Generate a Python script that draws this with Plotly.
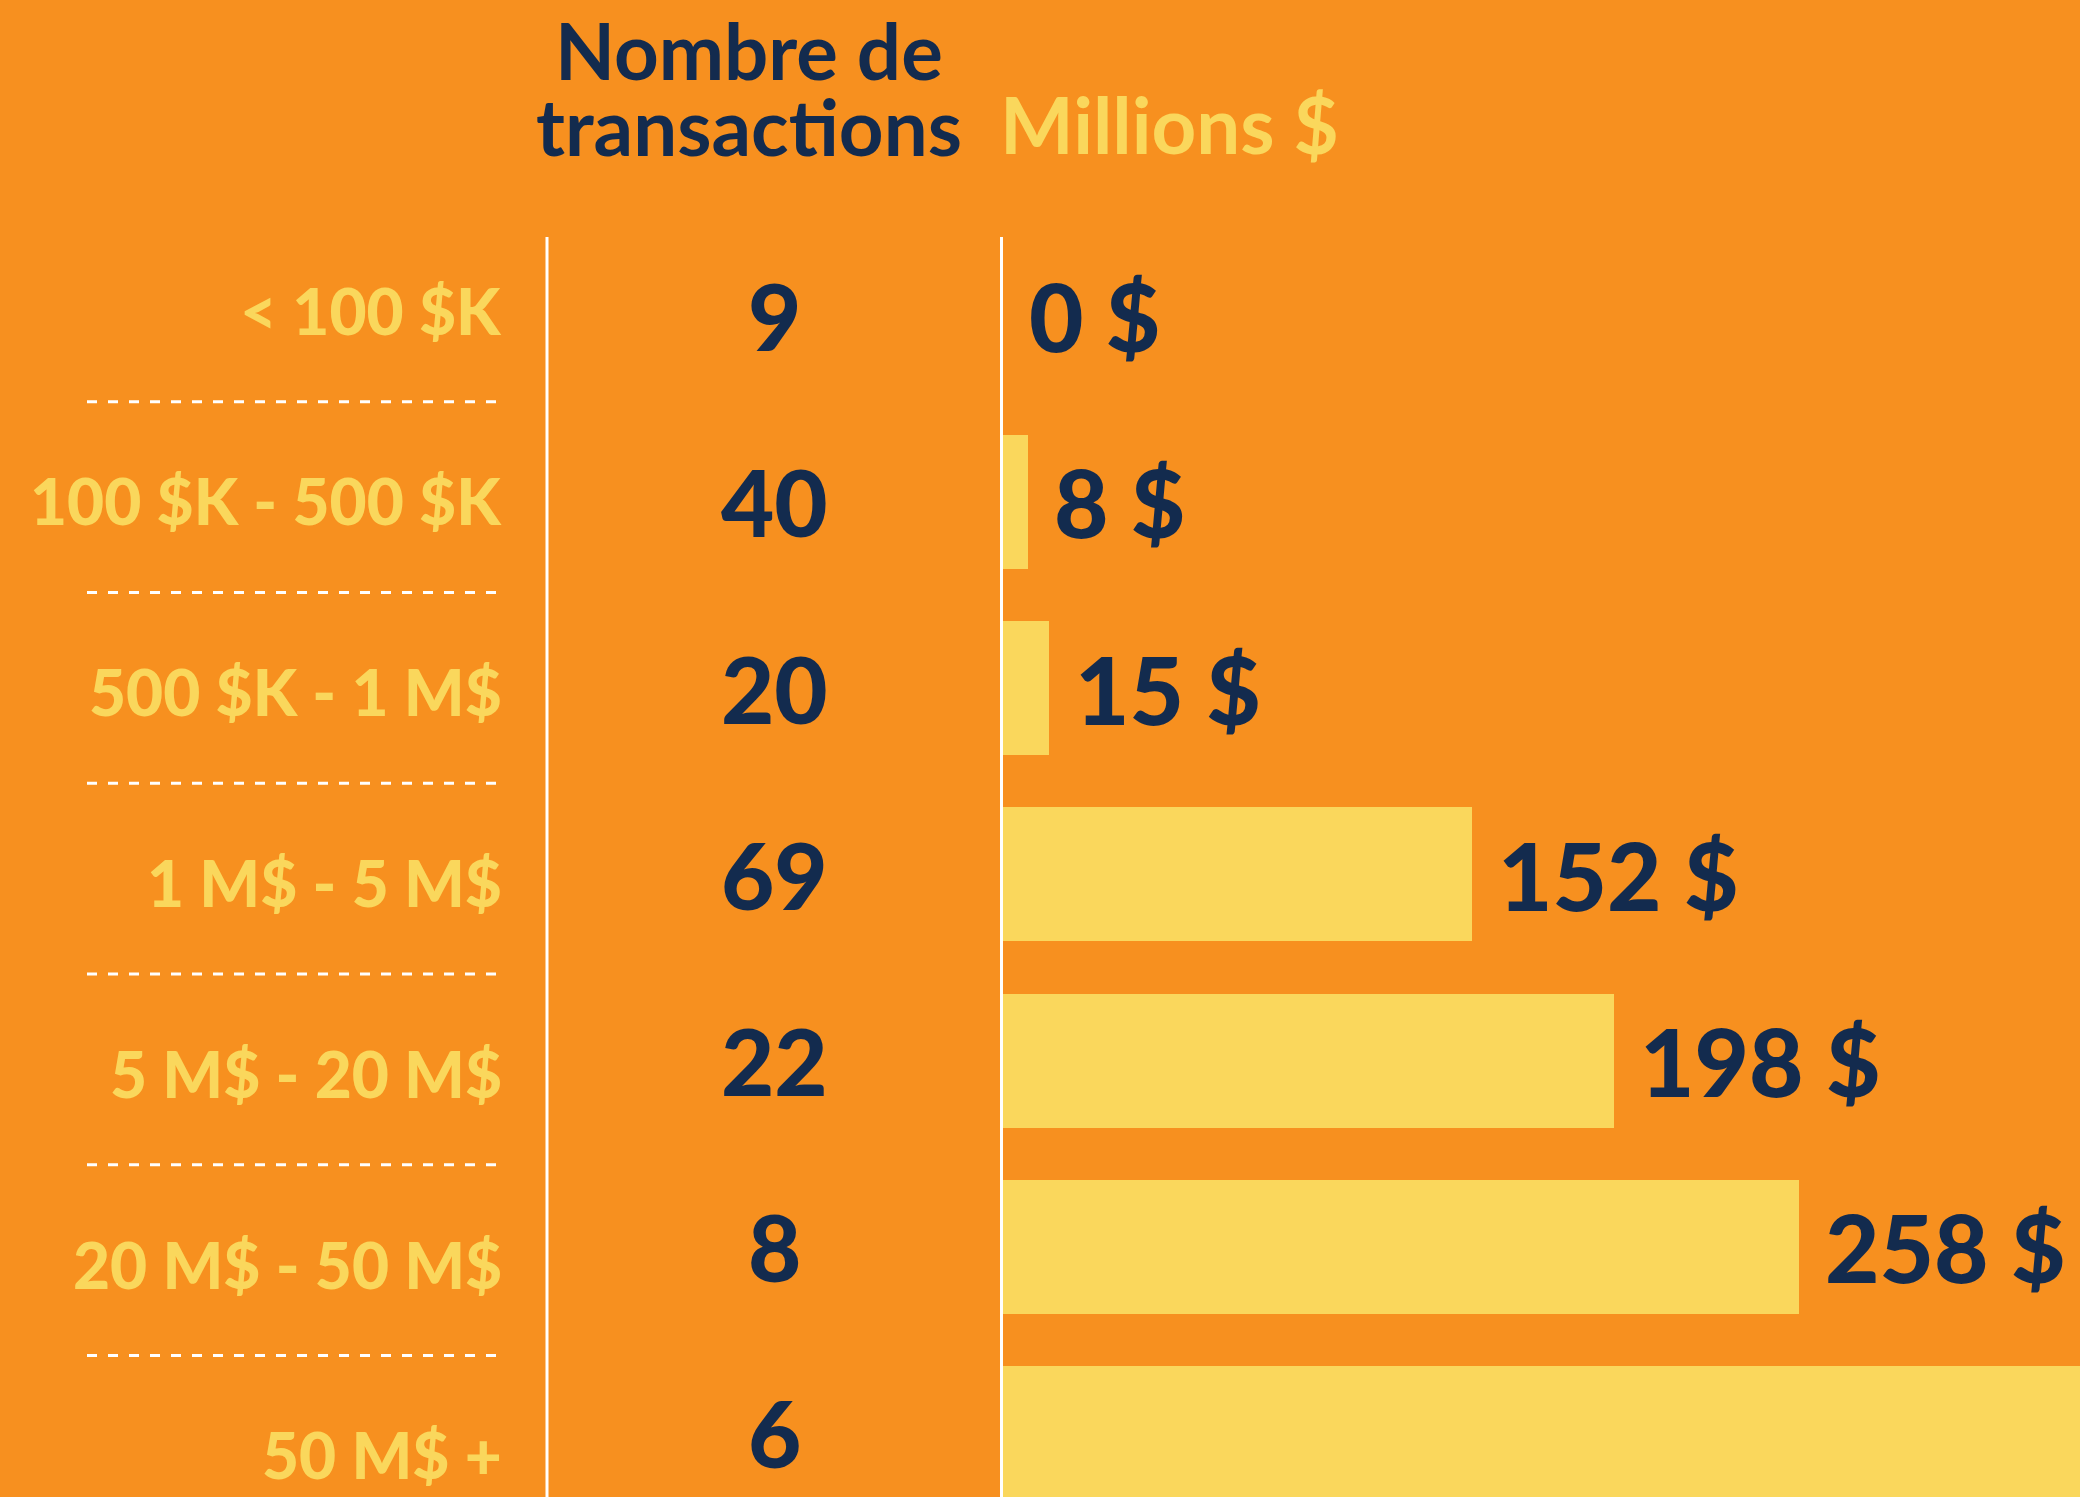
import plotly.graph_objects as go

# ---- data ----
categories = ["< 100 $K", "100 $K - 500 $K", "500 $K - 1 M$", "1 M$ - 5 M$",
              "5 M$ - 20 M$", "20 M$ - 50 M$", "50 M$ +"]
transactions = [9, 40, 20, 69, 22, 8, 6]
millions = [0, 8, 15, 152, 198, 258, 420]
header_count = ["Nombre de", "transactions"]
header_value = "Millions $"

# ---- styles ----
W, H = 2080, 1497
ORANGE = "#F7901F"
YELLOW = "#FAD75C"
NAVY = "#132B4E"
FONT = "Lato"

fig = go.Figure()
fig.add_trace(go.Bar(
    x=millions, y=categories, orientation="h",
    marker=dict(color=YELLOW, line=dict(width=0)),
    width=0.72, hoverinfo="skip", showlegend=False,
))

annotations = []
# middle column: transaction counts
for c, n in zip(categories, transactions):
    annotations.append(dict(
        x=774 / W, xref="paper", y=c, yref="y", text=str(n), showarrow=False,
        xanchor="center", yanchor="middle",
        font=dict(family=FONT, size=92, color=NAVY, weight=900)))
# value labels next to bars
for c, v in zip(categories, millions):
    annotations.append(dict(
        x=v, xref="x", y=c, yref="y", text=f"{v} $", showarrow=False,
        xanchor="left", yanchor="middle", xshift=24,
        font=dict(family=FONT, size=94, color=NAVY, weight=900)))
# left category labels (own vertical scale)
for k, c in enumerate(categories):
    annotations.append(dict(
        x=504 / W, xref="paper", y=k, yref="y2", text=c, showarrow=False,
        xanchor="right", yanchor="middle",
        font=dict(family=FONT, size=64, color=YELLOW, weight=900)))
# headers
annotations.append(dict(x=749 / W, xref="paper", y=1 - 50 / H, yref="paper",
                        text=header_count[0], showarrow=False, xanchor="center",
                        yanchor="middle",
                        font=dict(family=FONT, size=78, color=NAVY, weight=700)))
annotations.append(dict(x=749 / W, xref="paper", y=1 - 126 / H, yref="paper",
                        text=header_count[1], showarrow=False, xanchor="center",
                        yanchor="middle",
                        font=dict(family=FONT, size=78, color=NAVY, weight=700)))
annotations.append(dict(x=998 / W, xref="paper", y=1 - 124 / H, yref="paper",
                        text=header_value, showarrow=False, xanchor="left",
                        yanchor="middle",
                        font=dict(family=FONT, size=78, color=YELLOW, weight=700)))

shapes = []
# white vertical separators
for xp in (547, 1001.5):
    shapes.append(dict(type="line", xref="paper", yref="paper",
                       x0=xp / W, x1=xp / W, y0=0, y1=1 - 237 / H,
                       line=dict(color="white", width=3)))
# dashed separators between category labels
for k in range(len(categories) - 1):
    shapes.append(dict(type="line", xref="paper", yref="y2",
                       x0=87 / W, x1=504 / W, y0=k + 0.48, y1=k + 0.48,
                       line=dict(color="white", width=3, dash="10px,11px")))

fig.update_layout(
    width=W, height=H,
    margin=dict(l=0, r=0, t=0, b=0),
    paper_bgcolor=ORANGE, plot_bgcolor=ORANGE,
    xaxis=dict(domain=[1003 / W, 1], range=[0, 349], visible=False, fixedrange=True),
    yaxis=dict(domain=[0, 1], range=[6.344, -1.696], visible=False, fixedrange=True),
    yaxis2=dict(domain=[0, 1], range=[6.221, -1.625], visible=False,
                overlaying="y", fixedrange=True),
    annotations=annotations,
    shapes=shapes,
    bargap=0,
)

fig.write_html(
    "out.html",
    config={"displayModeBar": False},
    post_script="document.body.style.margin='0';document.body.style.overflow='hidden';"
                "document.body.style.background='" + ORANGE + "';",
)
